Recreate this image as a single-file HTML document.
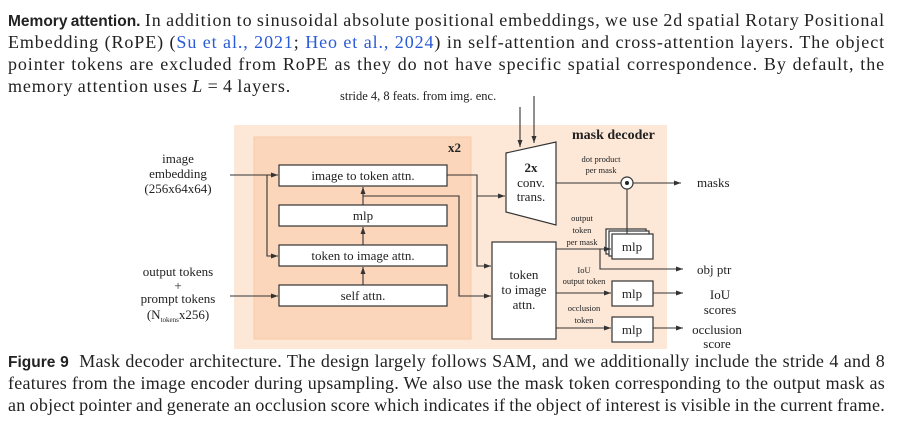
<!DOCTYPE html>
<html><head><meta charset="utf-8"><style>
body{margin:0;width:902px;height:423px;background:#fff;overflow:hidden;position:relative;font-family:"Liberation Serif",serif;color:#222}
.l{position:absolute;left:8px;width:877px;font-size:18px;letter-spacing:0.9px;word-spacing:-1px;line-height:20px;white-space:nowrap;text-align:justify;text-align-last:justify}
.cap{letter-spacing:0.25px;word-spacing:-1px}
.nj{text-align-last:left}
.b{font-family:"Liberation Sans",sans-serif;font-weight:bold;font-size:15.5px;letter-spacing:0}
.c{color:#2a5bd7}
svg{position:absolute;left:0;top:0}
svg text{font-family:"Liberation Serif",serif;fill:#222}
</style></head><body>
<div class="l" style="top:10px"><span class="b">Memory attention.</span> In addition to sinusoidal absolute positional embeddings, we use 2d spatial Rotary Positional</div>
<div class="l" style="top:32px">Embedding (RoPE) (<span class="c">Su et al., 2021</span>; <span class="c">Heo et al., 2024</span>) in self-attention and cross-attention layers. The object</div>
<div class="l" style="top:54px">pointer tokens are excluded from RoPE as they do not have specific spatial correspondence. By default, the</div>
<div class="l nj" style="top:76px">memory attention uses <i>L</i> = 4 layers.</div>
<div class="l cap" style="top:351px"><span class="b">Figure 9</span>&nbsp; Mask decoder architecture. The design largely follows SAM, and we additionally include the stride 4 and 8</div>
<div class="l cap" style="top:373px">features from the image encoder during upsampling. We also use the mask token corresponding to the output mask as</div>
<div class="l cap" style="top:395px">an object pointer and generate an occlusion score which indicates if the object of interest is visible in the current frame.</div>
<svg width="902" height="423" viewBox="0 0 902 423">
<defs><marker id="a" markerWidth="8" markerHeight="6" refX="7" refY="3" orient="auto" markerUnits="userSpaceOnUse"><path d="M0,0.5 L7,3 L0,5.5z" fill="#333"/></marker></defs>
<rect x="234" y="125" width="433" height="224" fill="#fde8d8"/>
<rect x="254" y="137" width="217" height="202" fill="#fcd6bb" stroke="#f9caa8" stroke-width="1"/>
<text x="448" y="152" font-size="13" font-weight="bold">x2</text>
<text x="572" y="139" font-size="14" font-weight="bold">mask decoder</text>
<text x="340" y="100" font-size="12.5">stride 4, 8 feats. from img. enc.</text>
<g fill="#fff" stroke="#333" stroke-width="1.2">
<rect x="279" y="165" width="168" height="21"/>
<rect x="279" y="205" width="168" height="21"/>
<rect x="279" y="245" width="168" height="21"/>
<rect x="279" y="285" width="168" height="21"/>
<polygon points="506,153 556,142 556,225 506,212"/>
<rect x="492" y="242" width="64" height="97"/>
<rect x="606" y="229" width="40" height="25"/>
<rect x="609" y="231" width="40" height="25"/>
<rect x="612" y="234" width="41" height="25"/>
<rect x="612" y="281" width="41" height="25"/>
<rect x="612" y="317" width="41" height="25"/>
<circle cx="627" cy="183" r="6"/>
</g>
<circle cx="627" cy="183" r="2" fill="#222"/>
<g fill="none" stroke="#333" stroke-width="1.1">
<path d="M230,175 H278" marker-end="url(#a)"/>
<path d="M267,175 V256 H278" marker-end="url(#a)"/>
<path d="M230,296 H278" marker-end="url(#a)"/>
<path d="M363,285 V267" marker-end="url(#a)"/>
<path d="M363,245 V227" marker-end="url(#a)"/>
<path d="M363,205 V187" marker-end="url(#a)"/>
<path d="M447,175 H477 V266 H491" marker-end="url(#a)"/>
<path d="M477,196 H505" marker-end="url(#a)"/>
<path d="M363,196 H459 V296 H491" marker-end="url(#a)"/>
<path d="M520,107 V147" marker-end="url(#a)"/>
<path d="M534,96 V143" marker-end="url(#a)"/>
<path d="M556,183 H621"/>
<path d="M633,183 H681" marker-end="url(#a)"/>
<path d="M627,189 V234"/>
<path d="M556,249 H611" marker-end="url(#a)"/>
<path d="M600,249 V269 H683" marker-end="url(#a)"/>
<path d="M556,293 H611" marker-end="url(#a)"/>
<path d="M653,293 H683" marker-end="url(#a)"/>
<path d="M556,328 H611" marker-end="url(#a)"/>
<path d="M653,328 H683" marker-end="url(#a)"/>
</g>
<g font-size="13" text-anchor="middle">
<text x="363" y="180">image to token attn.</text>
<text x="363" y="220">mlp</text>
<text x="363" y="260">token to image attn.</text>
<text x="363" y="300">self attn.</text>
<text x="178" y="163">image</text>
<text x="178" y="178">embedding</text>
<text x="178" y="193">(256x64x64)</text>
<text x="178" y="276">output tokens</text>
<text x="178" y="290">+</text>
<text x="178" y="303">prompt tokens</text>
<text x="178" y="319">(N<tspan font-size="7" dy="3">tokens</tspan><tspan dy="-3">x256)</tspan></text>
<text x="531" y="172" font-weight="bold">2x</text>
<text x="531" y="187">conv.</text>
<text x="531" y="201">trans.</text>
<text x="524" y="279">token</text>
<text x="524" y="294">to image</text>
<text x="524" y="309">attn.</text>
<text x="632" y="251">mlp</text>
<text x="632" y="298">mlp</text>
<text x="632" y="334">mlp</text>
<text x="720" y="299">IoU</text>
<text x="720" y="314">scores</text>
<text x="717" y="334">occlusion</text>
<text x="717" y="348">score</text>
</g>
<g font-size="13"><text x="697" y="187">masks</text><text x="697" y="274">obj ptr</text></g>
<g font-size="8.5" text-anchor="middle">
<text x="601" y="162">dot product</text><text x="601" y="173">per mask</text>
<text x="582" y="221">output</text><text x="582" y="233">token</text><text x="582" y="245">per mask</text>
<text x="584" y="273">IoU</text><text x="584" y="284">output token</text>
<text x="584" y="311">occlusion</text><text x="584" y="323">token</text>
</g>
</svg>
</body></html>
